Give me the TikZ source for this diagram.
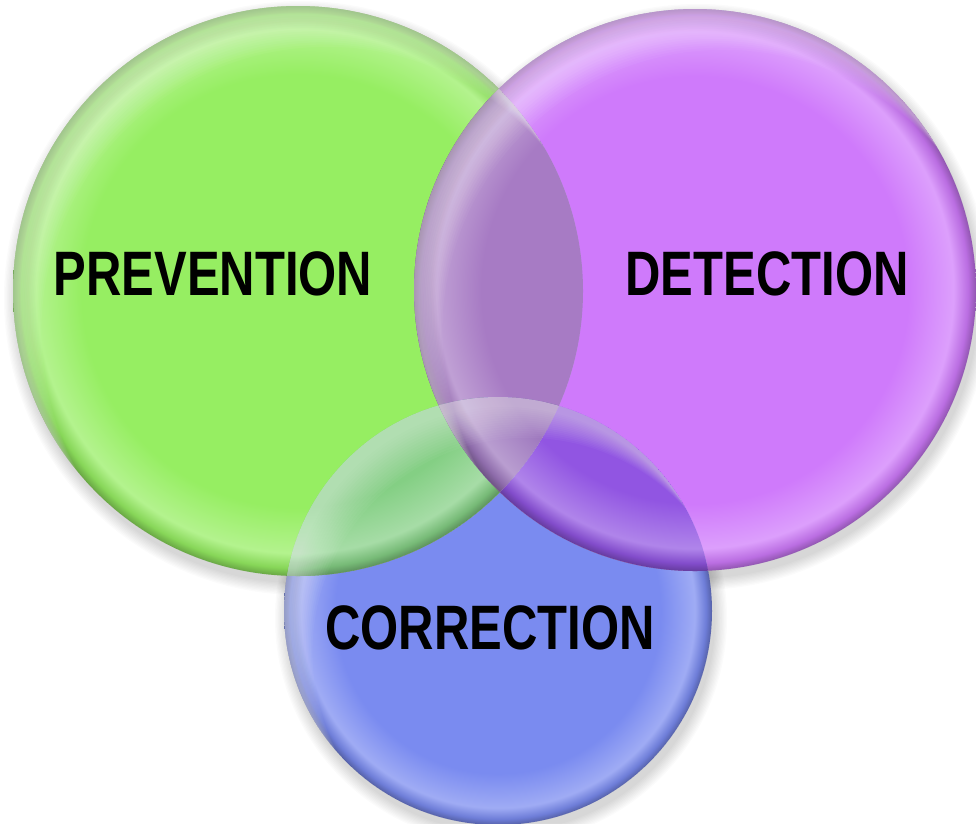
\documentclass[tikz,border=0pt]{standalone}
\usepackage{fontspec}
\setmainfont[FakeStretch=0.78]{Liberation Sans}

\definecolor{prevgreen}{HTML}{96EE62}
\definecolor{detpurple}{HTML}{CF7AFB}
\definecolor{corblue}{HTML}{7A8BF0}
\definecolor{gpmix}{HTML}{A77BC4}
\definecolor{pbmix}{HTML}{9155E2}
\definecolor{gbmix}{HTML}{84CF84}
\definecolor{allmix}{HTML}{9E78BE}
\colorlet{base}{prevgreen}

\pgfdeclareradialshading[base]{glossy}{\pgfpoint{0bp}{0bp}}{color(0bp)=(base); color(19bp)=(base); color(23bp)=(base!72!white); color(24.3bp)=(base!90!black); color(25bp)=(base!70!black); color(50bp)=(base!70!black)}

\tikzset{
  tint/.code={\colorlet{base}{#1}},
  bubble/.style={circle, inner sep=0pt, shading=glossy},
  label text/.style={inner sep=0pt, font=\fontsize{62.8}{70}\selectfont\bfseries}
}

\begin{document}
\begin{tikzpicture}[x=1pt, y=-1pt]
  \useasboundingbox[fill=white] (0,0) rectangle (976,823);
  \foreach \c/\r in {{(498,611)}/214, {(298,291)}/285, {(695,290)}/281}
    \foreach \s in {0,...,9}
      \fill[black, opacity=0.014] \c ++(3,7) circle[radius=\r+12-1.3*\s];
  \node[bubble, tint=corblue, minimum size=428pt] (corr) at (498,611) {};
  \node[bubble, tint=prevgreen, minimum size=570pt] (prev) at (298,291) {};
  \node[bubble, tint=detpurple, minimum size=562pt] (det) at (695,290) {};
  \begin{scope}
    \clip (prev.center) circle[radius=285];
    \shade[tint=gpmix, shading=glossy] (det.center) circle[radius=281];
  \end{scope}
  \begin{scope}
    \clip (corr.center) circle[radius=214];
    \shade[tint=gbmix, shading=glossy] (prev.center) circle[radius=285];
    \shade[tint=pbmix, shading=glossy] (det.center) circle[radius=281];
    \clip (prev.center) circle[radius=285];
    \shade[tint=allmix, shading=glossy] (det.center) circle[radius=281];
  \end{scope}
  \foreach \n/\r in {corr/214, prev/285, det/281} {
    \begin{scope}
      \clip (\n.center) circle[radius=\r];
      \foreach \s in {0,...,14}
        \fill[white, opacity=0.035, even odd rule] (\n.center) circle[radius=\r]
          ([shift={(6+1.6*\s,10+2.2*\s)}]\n.center) circle[radius=\r];
    \end{scope}
  }
  \node[label text] (prevtxt) at (213,274) {PREVENTION};
  \node[label text] (dettxt) at (767,274) {DETECTION};
  \node[label text] (corrtxt) at (490,628) {CORRECTION};
\end{tikzpicture}
\end{document}
